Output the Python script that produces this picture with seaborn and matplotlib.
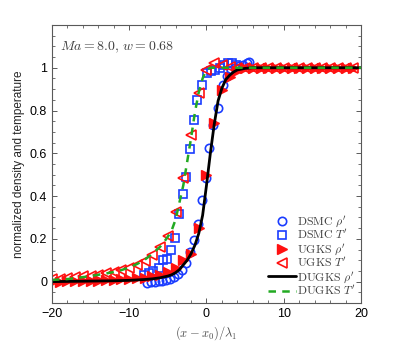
import matplotlib
matplotlib.use("Agg")
import matplotlib.pyplot as plt
import seaborn as sns
import numpy as np
from matplotlib.ticker import MultipleLocator

# ---------------- data ----------------
dsmc_rho_x = [-7.7, -7.2, -6.7, -6.2, -5.7, -5.2, -4.7, -4.2, -3.7, -3.2, -2.6, -2.1,
              -1.6, -1.1, -0.6, -0.05, 0.35, 0.9, 1.5, 2.1, 2.6, 3.2, 3.7, 4.2, 4.7, 5.2, 5.5]
dsmc_rho_y = [-0.005, -0.003, 0.0, 0.003, 0.005, 0.008, 0.012, 0.02, 0.035, 0.055, 0.087, 0.137,
              0.195, 0.27, 0.38, 0.485, 0.625, 0.734, 0.81, 0.92, 0.96, 0.99, 1.0, 1.01, 1.015, 1.02, 1.025]

dsmc_T_x = [-8.1, -7.5, -6.9, -6.2, -5.6, -5.15, -4.6, -4.1, -3.6, -3.0, -2.6, -2.1,
            -1.6, -1.2, -0.55, 0.05, 0.6, 1.1, 1.7, 2.3, 2.8, 3.3, 3.8]
dsmc_T_y = [0.03, 0.04, 0.048, 0.064, 0.10, 0.106, 0.146, 0.204, 0.315, 0.41, 0.49, 0.62,
            0.757, 0.847, 0.92, 0.975, 0.985, 0.99, 1.0, 1.015, 1.02, 1.02, 1.015]

ugks_x = [-20, -19, -18, -17, -16, -15, -14, -13, -12, -11, -10, -9, -8, -7, -6, -5, -4, -3,
          -2, -1, 0, 1, 2, 3, 4, 5, 6, 7, 8, 9, 10, 11, 12, 13, 14, 15, 16, 17, 18, 19]
ugks_rho = [0.0, 0.0, 0.001, 0.002, 0.003, 0.004, 0.005, 0.006, 0.008, 0.01, 0.012, 0.015,
            0.019, 0.024, 0.032, 0.045, 0.064, 0.10, 0.13, 0.25, 0.5, 0.74, 0.895, 0.955,
            0.985, 0.997, 1.0, 1.0, 1.0, 1.0, 1.0, 1.0, 1.0, 1.0, 1.0, 1.0, 1.0, 1.0, 1.0, 1.0]
ugks_T = [0.012, 0.014, 0.017, 0.02, 0.024, 0.028, 0.033, 0.039, 0.046, 0.055, 0.065, 0.078,
          0.095, 0.123, 0.16, 0.215, 0.325, 0.485, 0.685, 0.88, 0.99, 1.02, 1.015, 1.005,
          1.0, 1.0, 1.0, 1.0, 1.0, 1.0, 1.0, 1.0, 1.0, 1.0, 1.0, 1.0, 1.0, 1.0, 1.0, 1.0]

dugks_rho_x = [-20, -18, -16, -14, -12, -10, -9, -8, -7, -6, -5, -4.5, -4, -3.5, -3, -2.5, -2,
               -1.5, -1, -0.5, 0, 0.5, 1, 1.5, 2, 2.5, 3, 3.5, 4, 5, 6, 8, 10, 14, 20]
dugks_rho_y = [0.0, 0.001, 0.002, 0.003, 0.004, 0.006, 0.008, 0.01, 0.013, 0.018, 0.026, 0.032,
               0.042, 0.056, 0.078, 0.10, 0.13, 0.17, 0.225, 0.31, 0.45, 0.6, 0.735, 0.845,
               0.905, 0.945, 0.965, 0.98, 0.99, 0.997, 1.0, 1.0, 1.0, 1.0, 1.0]

dugks_T_x = [-20, -19, -18, -17, -16, -15, -14, -13, -12, -11, -10, -9, -8, -7, -6, -5.5, -5,
             -4.5, -4, -3.5, -3, -2.5, -2, -1.5, -1, -0.5, 0, 0.5, 1, 2, 5, 10, 20]
dugks_T_y = [0.008, 0.01, 0.012, 0.016, 0.021, 0.026, 0.032, 0.038, 0.045, 0.054, 0.066, 0.082,
             0.102, 0.13, 0.163, 0.185, 0.21, 0.24, 0.29, 0.37, 0.45, 0.56, 0.67, 0.79, 0.885,
             0.95, 0.99, 1.0, 1.0, 1.0, 1.0, 1.0, 1.0]

labels = [r"$\mathrm{DSMC}\ \rho^{\prime}$", r"$\mathrm{DSMC}\ T^{\prime}$",
          r"$\mathrm{UGKS}\ \rho^{\prime}$", r"$\mathrm{UGKS}\ T^{\prime}$",
          r"$\mathrm{DUGKS}\ \rho^{\prime}$", r"$\mathrm{DUGKS}\ T^{\prime}$"]

# ---------------- style ----------------
sns.set_style("ticks")
plt.rcParams["font.family"] = ["Liberation Sans", "DejaVu Sans"]
plt.rcParams["mathtext.fontset"] = "cm"

fig = plt.figure(figsize=(3.99, 3.42), dpi=100)
ax = fig.add_axes([0.130, 0.114, 0.775, 0.813])

blue = "#1a3cff"
red = "#ff1010"
green = "#22aa22"

common = dict(estimator=None, sort=False, ax=ax, linestyle="none")
sns.lineplot(x=dsmc_rho_x, y=dsmc_rho_y, marker="o", markersize=6,
             markerfacecolor="none", markeredgecolor=blue, markeredgewidth=1.2,
             color=blue, label=labels[0], **common)
sns.lineplot(x=dsmc_T_x, y=dsmc_T_y, marker="s", markersize=5.3,
             markerfacecolor="none", markeredgecolor=blue, markeredgewidth=1.2,
             color=blue, label=labels[1], **common)
sns.lineplot(x=ugks_x, y=ugks_rho, marker=">", markersize=6.5,
             markerfacecolor=red, markeredgecolor=red, markeredgewidth=1.0,
             color=red, label=labels[2], **common)
sns.lineplot(x=ugks_x, y=ugks_T, marker="<", markersize=6.5,
             markerfacecolor="none", markeredgecolor=red, markeredgewidth=1.2,
             color=red, label=labels[3], **common)
sns.lineplot(x=dugks_rho_x, y=dugks_rho_y, color="black", linewidth=2.0,
             estimator=None, sort=False, ax=ax, label=labels[4])
sns.lineplot(x=dugks_T_x, y=dugks_T_y, color=green, linewidth=1.8, linestyle=(0, (3, 2.5)),
             estimator=None, sort=False, ax=ax, label=labels[5])

ax.set_xlim(-20, 20)
ax.set_ylim(-0.1, 1.2)
ax.xaxis.set_minor_locator(MultipleLocator(2))
ax.yaxis.set_minor_locator(MultipleLocator(0.05))
ax.set_yticks([0, 0.2, 0.4, 0.6, 0.8, 1.0])
ax.set_yticklabels(["0", "0.2", "0.4", "0.6", "0.8", "1"])
ax.set_xticks([-20, -10, 0, 10, 20])
ax.set_xticklabels(["\u221220", "\u221210", "0", "10", "20"])
ax.tick_params(which="both", direction="in", top=True, right=True, colors="0.35",
               labelcolor="black", labelsize=9)
ax.tick_params(which="major", length=3.5, width=0.7)
ax.tick_params(which="minor", length=2, width=0.6)
for s in ax.spines.values():
    s.set_color("0.35")
    s.set_linewidth(0.8)

ax.set_xlabel(r"$(x-x_0)/\lambda_1$", fontsize=9, color="0.3", labelpad=3)
ax.set_ylabel("normalized density and temperature", fontsize=8.5, labelpad=3)
ax.text(0.025, 0.92, r"$Ma=8.0,\, w=0.68$", transform=ax.transAxes, fontsize=10,
        color="0.25", ha="left", va="center")

leg = ax.legend(loc="lower right", frameon=False, fontsize=8.5, labelspacing=-0.08,
                handlelength=2.4, handletextpad=0.1, borderaxespad=0.05, numpoints=1)
for t in leg.get_texts():
    t.set_color("0.25")

fig.savefig("out.png", dpi=100)
